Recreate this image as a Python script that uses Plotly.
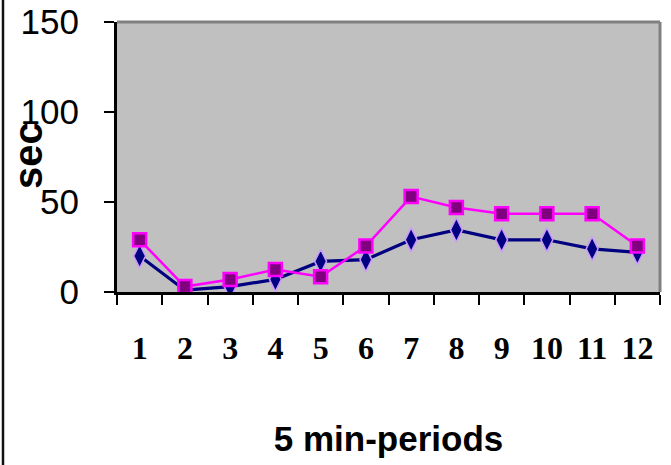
import plotly.graph_objects as go

periods = ["1", "2", "3", "4", "5", "6", "7", "8", "9", "10", "11", "12"]
series_diamond = [20, 1, 3, 7, 17, 18, 29, 34.5, 29, 29, 24, 22]
series_square = [29, 3, 7, 12.5, 8.5, 25.5, 53, 47, 43.5, 43.5, 43.5, 25.5]
y_ticks = [0, 50, 100, 150]

SANS = "Liberation Sans, Arial, sans-serif"
SERIF = "Liberation Serif, Times New Roman, serif"

L, R, T, B = 117, 11, 22, 173
PW, PH = 671 - L - R, 465 - T - B

fig = go.Figure()
fig.add_trace(go.Scatter(
    x=periods, y=series_diamond, mode="lines+markers",
    line=dict(color="#000080", width=3.2),
    marker=dict(symbol="diamond-tall", size=17, color="#000080",
                line=dict(color="#CC99FF", width=1.5)),
    showlegend=False,
))
fig.add_trace(go.Scatter(
    x=periods, y=series_square, mode="lines+markers",
    line=dict(color="#FF00FF", width=2.5),
    marker=dict(symbol="square", size=13, color="#800080",
                line=dict(color="#FF00FF", width=2.5)),
    showlegend=False,
))

fig.update_layout(
    width=671, height=465,
    margin=dict(l=L, r=R, t=T, b=B),
    paper_bgcolor="white",
    plot_bgcolor="#C0C0C0",
    xaxis=dict(
        type="category", categoryorder="array", categoryarray=periods,
        range=[-0.5, len(periods) - 0.5],
        automargin=False,
        tickson="boundaries", ticks="outside", ticklen=10, tickwidth=2,
        tickcolor="black", showline=True, linecolor="black", linewidth=3,
        showgrid=False, zeroline=False,
        tickfont=dict(family=SERIF, size=32, color="black", weight="bold"),
        ticklabelstandoff=26,
        title=dict(text="5 min-periods", font=dict(family=SANS, size=35, color="black", weight="bold"), standoff=62),
    ),
    yaxis=dict(
        range=[0, 150], tickvals=y_ticks, ticks="outside", ticklen=10, tickwidth=2,
        automargin=False,
        tickcolor="black", showline=True, linecolor="black", linewidth=3,
        showgrid=False, zeroline=False,
        tickfont=dict(family=SANS, size=35, color="black"),
        ticklabelstandoff=18,
    ),
    annotations=[
        dict(text="sec", xref="paper", yref="paper",
             x=(28 - L) / PW, y=1 - (156 - T) / PH,
             xanchor="center", yanchor="middle", textangle=-90, showarrow=False,
             font=dict(family=SANS, size=40, color="black", weight="bold")),
    ],
    shapes=[
        dict(type="line", xref="paper", yref="paper", x0=0, x1=1, y0=1, y1=1,
             line=dict(color="#808080", width=3)),
        dict(type="line", xref="paper", yref="paper", x0=1, x1=1, y0=0, y1=1,
             line=dict(color="#808080", width=3)),
        dict(type="line", xref="paper", yref="paper",
             x0=(3 - L) / PW, x1=(3 - L) / PW, y0=-B / PH, y1=1 + T / PH,
             line=dict(color="#111111", width=2.5)),
    ],
)

fig.write_html("out.html")
